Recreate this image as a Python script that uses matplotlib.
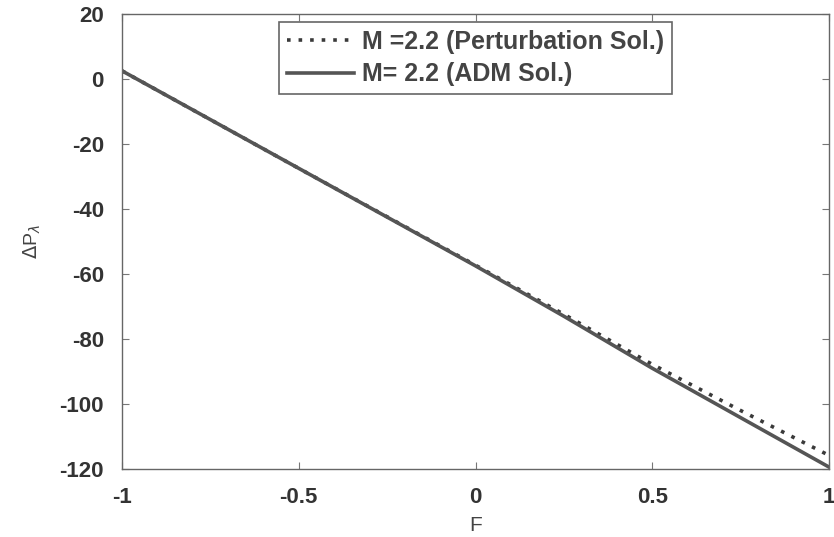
import matplotlib

matplotlib.use("Agg")
import matplotlib.pyplot as plt

# values
f_values = [-1.0, -0.75, -0.5, -0.25, 0.0, 0.25, 0.5, 0.75, 1.0]
dp_perturbation = [2.5, -12.5, -27.5, -42.4, -57.3, -72.4, -87.8, -102.0, -115.8]
dp_adm = [2.5, -12.5, -27.5, -42.5, -57.5, -73.0, -89.0, -104.2, -119.4]

x_ticks = [-1, -0.5, 0, 0.5, 1]
x_tick_labels = ["-1", "-0.5", "0", "0.5", "1"]
y_ticks = [-120, -100, -80, -60, -40, -20, 0, 20]

plt.rcParams["font.family"] = ["Liberation Sans", "DejaVu Sans"]
plt.rcParams["axes.unicode_minus"] = False

fig = plt.figure(figsize=(8.34, 5.37), dpi=100)
ax = fig.add_axes([0.1463, 0.1266, 0.8477, 0.8474])

ax.plot(f_values, dp_perturbation, linestyle=(0, (1, 2.2)), linewidth=2.6,
        color="#3a3a3a", label="M =2.2 (Perturbation Sol.)")
ax.plot(f_values, dp_adm, linestyle="-", linewidth=2.6,
        color="#555555", label="M= 2.2 (ADM Sol.)")

ax.set_xlim(-1, 1)
ax.set_ylim(-120, 20)
ax.set_xticks(x_ticks)
ax.set_xticklabels(x_tick_labels)
ax.set_yticks(y_ticks)

ax.tick_params(direction="in", length=5, width=0.8, colors="#777777",
               top=True, right=True, labelsize=16, labelcolor="#333333", pad=13)
for label in ax.get_xticklabels() + ax.get_yticklabels():
    label.set_fontweight("bold")
for spine in ax.spines.values():
    spine.set_color("#666666")
    spine.set_linewidth(1.0)

ax.set_xlabel("F", fontsize=15, color="#444444", labelpad=6)
ax.set_ylabel(r"$\Delta$P$_\lambda$", fontsize=14, color="#444444", labelpad=12)

legend = ax.legend(loc="upper center", bbox_to_anchor=(0.5, 0.982),
                   borderaxespad=0, prop={"size": 18, "weight": "bold"},
                   handlelength=2.7, handletextpad=0.3, borderpad=0.3,
                   labelspacing=0.35, fancybox=False, framealpha=1,
                   edgecolor="#666666")
legend.get_frame().set_linewidth(1.2)
for text in legend.get_texts():
    text.set_color("#444444")

fig.savefig("out.png", dpi=100)
